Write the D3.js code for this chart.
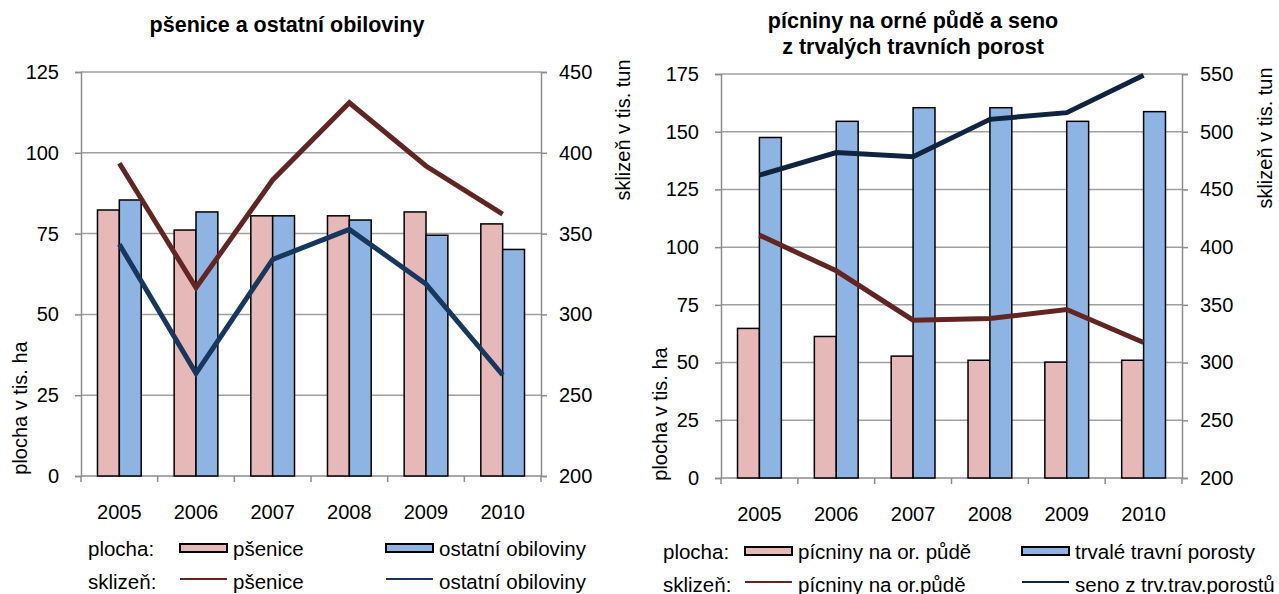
<!DOCTYPE html>
<html><head><meta charset="utf-8">
<script src="https://cdn.jsdelivr.net/npm/d3@7"></script>
<style>
html,body{margin:0;padding:0;background:#fff;}
svg{display:block;font-family:"Liberation Sans",Arial,sans-serif;}
</style></head>
<body><svg id="c" width="1279" height="594"></svg>
<script>
// ---- data ----
const years = ["2005","2006","2007","2008","2009","2010"];

// left chart: pšenice a ostatní obiloviny
const leftTitle = ["pšenice a ostatní obiloviny"];
const leftAreaWheat = [82.3, 76.1, 80.5, 80.5, 81.7, 78.0];
const leftAreaOther = [85.4, 81.7, 80.5, 79.2, 74.5, 70.1];
const leftHarvestWheat = [393.5, 316.5, 383.2, 431, 391.8, 362];
const leftHarvestOther = [343.4, 263.5, 334, 352.6, 318.8, 262.5];
const leftTicksArea = [0, 25, 50, 75, 100, 125];
const leftTicksHarvest = [200, 250, 300, 350, 400, 450];
const leftLegendArea = ["pšenice", "ostatní obiloviny"];
const leftLegendHarvest = ["pšenice", "ostatní obiloviny"];

// right chart: pícniny a seno
const rightTitle = ["pícniny na orné půdě a seno", "z trvalých travních porost"];
const rightAreaFodder = [64.8, 61.3, 52.8, 51.0, 50.2, 51.0];
const rightAreaGrass = [147.5, 154.5, 160.4, 160.4, 154.5, 158.7];
const rightHarvestFodder = [410.4, 379.5, 336.7, 338.2, 346, 317.4];
const rightHarvestHay = [462.4, 482, 478.3, 510.7, 516.5, 549];
const rightTicksArea = [0, 25, 50, 75, 100, 125, 150, 175];
const rightTicksHarvest = [200, 250, 300, 350, 400, 450, 500, 550];
const rightLegendArea = ["pícniny na or. půdě", "trvalé travní porosty"];
const rightLegendHarvest = ["pícniny na or.půdě", "seno z trv.trav.porostů"];

const axisLabelLeft = "plocha v tis. ha";
const axisLabelRight = "sklizeň v tis. tun";
const legendRowLabels = ["plocha:", "sklizeň:"];

// ---- drawing ----
const svg = d3.select("#c");
const PINK = "#E6B9B8", BLUE = "#8EB4E3", GRID = "#A0A0A0", AXIS = "#8C8C8C";
const FS = 20;
const FL = 20.5;

function drawChart(o) {
  const g = svg.append("g");
  const x = d3.scaleBand().domain(years).range([o.x0, o.x1]).padding(0);
  const inner = d3.scaleBand().domain([0, 1]).range([x.step() * 0.215, x.step() * 0.785]).padding(0);
  const yL = d3.scaleLinear().domain([o.ticksL[0], o.ticksL[o.ticksL.length - 1]]).range([o.y1, o.y0]);
  const yR = d3.scaleLinear().domain([o.ticksR[0], o.ticksR[o.ticksR.length - 1]]).range([o.y1, o.y0]);

  // gridlines
  g.append("g").selectAll("line").data(o.ticksL.slice(1)).join("line")
    .attr("x1", o.x0).attr("x2", o.x1).attr("y1", d => yL(d)).attr("y2", d => yL(d))
    .attr("stroke", GRID).attr("stroke-width", 1.5);

  const axL = d3.axisLeft(yL).tickValues(o.ticksL).tickSize(6).tickPadding(o.padL);
  const gl = g.append("g").attr("transform", `translate(${o.x0},0)`).call(axL);
  const axR = d3.axisRight(yR).tickValues(o.ticksR).tickSize(6).tickPadding(12);
  const gr = g.append("g").attr("transform", `translate(${o.x1},0)`).call(axR);
  const axB = d3.axisBottom(x).tickSize(0).tickPadding(29);
  const gb = g.append("g").attr("transform", `translate(0,${o.y1})`).call(axB);
  [gl, gr, gb].forEach(a => {
    a.select(".domain").attr("stroke", AXIS).attr("stroke-width", 1.5);
    a.selectAll(".tick line").attr("stroke", AXIS).attr("stroke-width", 1.5);
    a.selectAll("text").attr("font-size", FS).attr("fill", "#000").attr("font-family", "Liberation Sans, Arial, sans-serif");
  });
  gb.select(".domain").attr("d", `M${o.x0},0H${o.x1}`);
  g.append("g").selectAll("line").data(d3.range(years.length + 1)).join("line")
    .attr("x1", i => o.x0 + i * x.step()).attr("x2", i => o.x0 + i * x.step())
    .attr("y1", o.y1).attr("y2", o.y1 + 6).attr("stroke", AXIS).attr("stroke-width", 1.5);

  // bars
  const series = [o.barsA, o.barsB];
  const cols = [PINK, BLUE];
  series.forEach((vals, si) => {
    g.append("g").selectAll("rect").data(vals).join("rect")
      .attr("x", (d, i) => x(years[i]) + inner(si))
      .attr("width", inner.bandwidth())
      .attr("y", d => yL(d))
      .attr("height", d => yL(0) - yL(d))
      .attr("fill", cols[si]).attr("stroke", "#000").attr("stroke-width", 1.5);
  });

  // lines
  const line = d3.line().x((d, i) => x(years[i]) + x.bandwidth() / 2).y(d => yR(d));
  [[o.lineA, o.colA], [o.lineB, o.colB]].forEach(([vals, c]) => {
    g.append("path").datum(vals).attr("d", line).attr("fill", "none")
      .attr("stroke", c).attr("stroke-width", 5).attr("stroke-linejoin", "miter");
  });

  // titles
  o.title.forEach((t, i) => {
    g.append("text").attr("x", o.titleX).attr("y", o.titleY + i * 26).attr("text-anchor", "middle")
      .attr("font-weight", "bold").attr("font-size", 21.5).text(t);
  });
  // axis titles
  g.append("text").attr("transform", `translate(${o.alX},${o.alY}) rotate(-90)`)
    .attr("text-anchor", "middle").attr("dominant-baseline", "central").attr("font-size", FS).text(axisLabelLeft);
  g.append("text").attr("transform", `translate(${o.arX},${o.arY}) rotate(-90)`)
    .attr("text-anchor", "middle").attr("dominant-baseline", "central").attr("font-size", FS).text(axisLabelRight);

  // legend
  const L = o.legend;
  legendRowLabels.forEach((lab, r) => {
    const y = L.rows[r];
    g.append("text").attr("x", L.labX).attr("y", y).attr("dominant-baseline", "central").attr("font-size", FL).text(lab);
    [0, 1].forEach(k => {
      const sx = L.sw[k];
      if (r === 0) {
        g.append("rect").attr("x", sx).attr("y", y - 4).attr("width", L.swW).attr("height", 8)
          .attr("fill", cols[k]).attr("stroke", "#000").attr("stroke-width", 2);
      } else {
        g.append("line").attr("x1", sx).attr("x2", sx + L.swW).attr("y1", y - 2).attr("y2", y - 2)
          .attr("stroke", k === 0 ? o.colA : o.colB).attr("stroke-width", 2);
      }
      g.append("text").attr("x", sx + L.swW + 6).attr("y", y).attr("dominant-baseline", "central")
        .attr("font-size", FL).text(r === 0 ? o.legA[k] : o.legH[k]);
    });
  });
}

drawChart({
  x0: 81, x1: 541, y0: 72, y1: 476, padL: 16,
  ticksL: leftTicksArea, ticksR: leftTicksHarvest,
  barsA: leftAreaWheat, barsB: leftAreaOther,
  lineA: leftHarvestWheat, lineB: leftHarvestOther,
  colA: "#632523", colB: "#17375E",
  title: leftTitle, titleX: 287, titleY: 32,
  alX: 20, alY: 408, arX: 623, arY: 130,
  legend: { rows: [548, 581], labX: 88, sw: [180, 386], swW: 47 },
  legA: leftLegendArea, legH: leftLegendHarvest
});

drawChart({
  x0: 721, x1: 1182, y0: 74, y1: 478, padL: 16,
  ticksL: rightTicksArea, ticksR: rightTicksHarvest,
  barsA: rightAreaFodder, barsB: rightAreaGrass,
  lineA: rightHarvestFodder, lineB: rightHarvestHay,
  colA: "#632523", colB: "#0F243E",
  title: rightTitle, titleX: 913, titleY: 28,
  alX: 660, alY: 414, arX: 1265, arY: 138,
  legend: { rows: [551, 584], labX: 663, sw: [745, 1022], swW: 47 },
  legA: rightLegendArea, legH: rightLegendHarvest
});
</script></body></html>
